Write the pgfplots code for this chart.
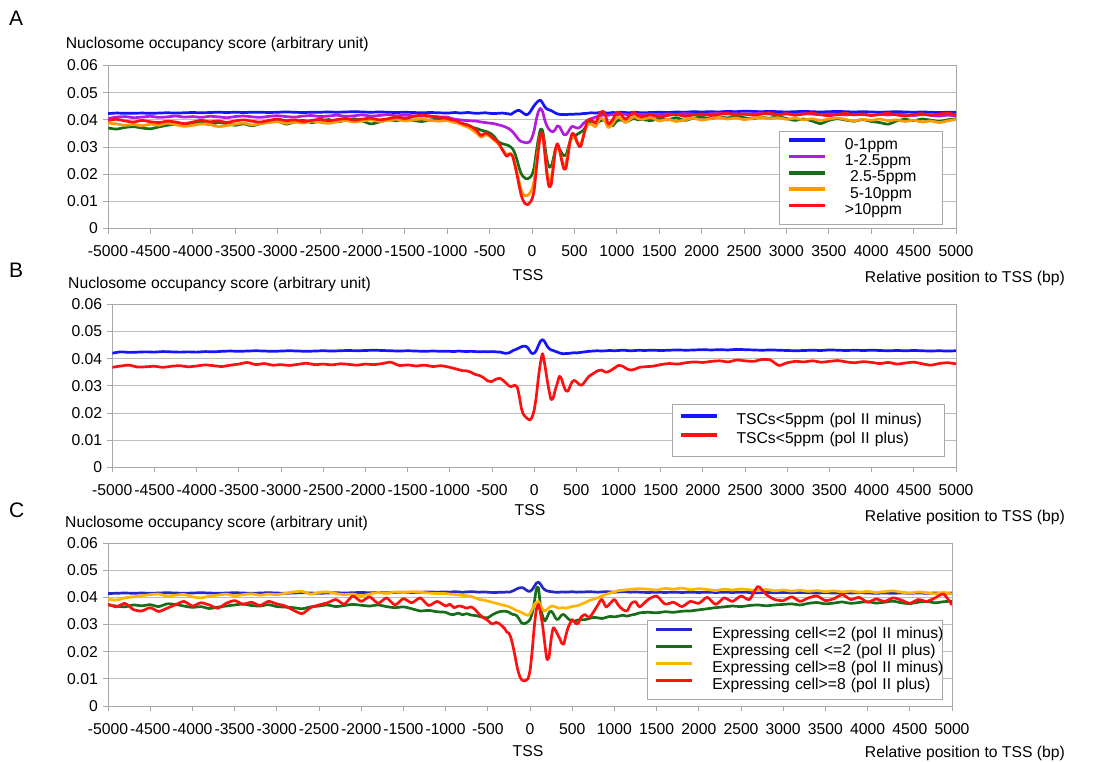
\documentclass[border=0pt]{standalone}
\usepackage{fontspec}
\setmainfont{Liberation Sans}
\usepackage{pgfplots}
\usepackage{pgfplotstable}
\pgfplotsset{compat=1.18}

\definecolor{cBlue}{HTML}{1414FF}
\definecolor{cPurple}{HTML}{B01EDC}
\definecolor{cGreen}{HTML}{186E18}
\definecolor{cOrange}{HTML}{FF9A00}
\definecolor{cRed}{HTML}{FF1010}
\definecolor{cNavy}{HTML}{2828C8}
\definecolor{cGold}{HTML}{FFB400}
\definecolor{cGrid}{HTML}{BDBDBD}
\definecolor{cAxis}{HTML}{A8A8A8}

\newcommand\fs{\fontsize{15.7}{18}\selectfont}

\pgfplotstableread{
x b p g o r
-5000 0.0423 0.0405 0.0370 0.0388 0.0398
-4900 0.0425 0.0410 0.0366 0.0385 0.0402
-4800 0.0424 0.0412 0.0372 0.0380 0.0396
-4700 0.0424 0.0408 0.0375 0.0383 0.0392
-4600 0.0425 0.0410 0.0370 0.0378 0.0398
-4500 0.0424 0.0413 0.0367 0.0384 0.0393
-4400 0.0425 0.0409 0.0374 0.0380 0.0390
-4300 0.0426 0.0411 0.0380 0.0388 0.0395
-4200 0.0425 0.0414 0.0384 0.0382 0.0392
-4100 0.0426 0.0410 0.0378 0.0376 0.0386
-4000 0.0427 0.0412 0.0385 0.0380 0.0392
-3900 0.0426 0.0409 0.0388 0.0385 0.0398
-3800 0.0427 0.0413 0.0383 0.0383 0.0393
-3700 0.0428 0.0411 0.0390 0.0375 0.0396
-3600 0.0427 0.0408 0.0386 0.0379 0.0391
-3500 0.0428 0.0412 0.0380 0.0384 0.0396
-3400 0.0427 0.0414 0.0385 0.0388 0.0400
-3300 0.0428 0.0411 0.0378 0.0381 0.0395
-3200 0.0428 0.0409 0.0386 0.0386 0.0392
-3100 0.0427 0.0413 0.0392 0.0390 0.0398
-3000 0.0428 0.0415 0.0395 0.0393 0.0403
-2900 0.0429 0.0412 0.0384 0.0387 0.0397
-2800 0.0428 0.0410 0.0392 0.0392 0.0400
-2700 0.0427 0.0414 0.0398 0.0388 0.0394
-2600 0.0428 0.0416 0.0390 0.0395 0.0398
-2500 0.0428 0.0412 0.0395 0.0391 0.0402
-2400 0.0429 0.0414 0.0401 0.0387 0.0397
-2300 0.0428 0.0417 0.0393 0.0393 0.0401
-2200 0.0429 0.0413 0.0398 0.0398 0.0405
-2100 0.0430 0.0415 0.0404 0.0392 0.0399
-2000 0.0429 0.0418 0.0396 0.0396 0.0403
-1900 0.0428 0.0414 0.0385 0.0400 0.0406
-1800 0.0429 0.0416 0.0392 0.0394 0.0400
-1700 0.0428 0.0419 0.0400 0.0398 0.0404
-1600 0.0427 0.0415 0.0397 0.0402 0.0410
-1500 0.0428 0.0417 0.0403 0.0396 0.0405
-1400 0.0427 0.0415 0.0398 0.0400 0.0412
-1300 0.0426 0.0414 0.0394 0.0403 0.0418
-1200 0.0427 0.0413 0.0400 0.0398 0.0414
-1100 0.0426 0.0411 0.0402 0.0395 0.0410
-1000 0.0425 0.0410 0.0400 0.0398 0.0405
-950 0.0426 0.0405 0.0398 0.0392 0.0400
-900 0.0427 0.0402 0.0392 0.0390 0.0398
-850 0.0425 0.0400 0.0388 0.0385 0.0390
-800 0.0426 0.0398 0.0385 0.0378 0.0384
-750 0.0427 0.0397 0.0380 0.0372 0.0380
-700 0.0425 0.0396 0.0372 0.0362 0.0372
-650 0.0424 0.0395 0.0368 0.0350 0.0360
-600 0.0425 0.0392 0.0362 0.0336 0.0342
-550 0.0426 0.0390 0.0358 0.0345 0.0352
-500 0.0424 0.0388 0.0352 0.0340 0.0344
-450 0.0423 0.0386 0.0340 0.0326 0.0330
-400 0.0424 0.0382 0.0320 0.0312 0.0318
-350 0.0425 0.0378 0.0312 0.0292 0.0290
-300 0.0423 0.0372 0.0308 0.0272 0.0266
-275 0.0422 0.0368 0.0305 0.0275 0.0272
-250 0.0420 0.0362 0.0300 0.0275 0.0275
-225 0.0425 0.0355 0.0292 0.0265 0.0262
-200 0.0430 0.0345 0.0275 0.0238 0.0230
-175 0.0434 0.0335 0.0250 0.0205 0.0195
-150 0.0435 0.0325 0.0222 0.0170 0.0155
-125 0.0430 0.0320 0.0200 0.0140 0.0120
-100 0.0424 0.0318 0.0190 0.0125 0.0100
-75 0.0419 0.0316 0.0184 0.0120 0.0090
-50 0.0420 0.0316 0.0183 0.0122 0.0088
-25 0.0428 0.0320 0.0188 0.0130 0.0095
0 0.0440 0.0335 0.0198 0.0145 0.0108
25 0.0452 0.0360 0.0225 0.0175 0.0140
50 0.0462 0.0400 0.0280 0.0240 0.0215
75 0.0470 0.0430 0.0330 0.0300 0.0290
100 0.0472 0.0442 0.0365 0.0345 0.0345
125 0.0462 0.0430 0.0360 0.0345 0.0350
150 0.0448 0.0400 0.0310 0.0285 0.0280
175 0.0440 0.0378 0.0255 0.0215 0.0200
200 0.0437 0.0365 0.0228 0.0175 0.0155
225 0.0434 0.0358 0.0228 0.0180 0.0160
250 0.0430 0.0356 0.0255 0.0230 0.0220
275 0.0425 0.0365 0.0290 0.0285 0.0290
300 0.0422 0.0378 0.0300 0.0300 0.0312
325 0.0420 0.0375 0.0292 0.0285 0.0290
350 0.0420 0.0360 0.0278 0.0255 0.0250
375 0.0420 0.0346 0.0268 0.0235 0.0220
400 0.0419 0.0345 0.0270 0.0240 0.0222
425 0.0420 0.0355 0.0295 0.0280 0.0270
450 0.0421 0.0368 0.0322 0.0320 0.0325
475 0.0420 0.0376 0.0335 0.0340 0.0350
500 0.0421 0.0374 0.0340 0.0338 0.0345
525 0.0422 0.0370 0.0345 0.0320 0.0325
550 0.0421 0.0370 0.0350 0.0310 0.0305
575 0.0422 0.0375 0.0355 0.0312 0.0302
600 0.0423 0.0385 0.0360 0.0335 0.0330
650 0.0424 0.0398 0.0380 0.0380 0.0395
700 0.0426 0.0405 0.0395 0.0385 0.0400
750 0.0425 0.0410 0.0390 0.0375 0.0388
800 0.0427 0.0415 0.0395 0.0405 0.0425
850 0.0426 0.0418 0.0400 0.0400 0.0430
900 0.0425 0.0417 0.0385 0.0372 0.0385
950 0.0427 0.0420 0.0378 0.0385 0.0400
1000 0.0426 0.0419 0.0395 0.0410 0.0428
1050 0.0428 0.0421 0.0400 0.0405 0.0420
1100 0.0427 0.0420 0.0392 0.0390 0.0402
1150 0.0426 0.0418 0.0398 0.0400 0.0415
1200 0.0428 0.0421 0.0405 0.0412 0.0428
1250 0.0427 0.0420 0.0400 0.0405 0.0415
1300 0.0426 0.0420 0.0402 0.0402 0.0412
1400 0.0427 0.0421 0.0397 0.0408 0.0418
1500 0.0428 0.0419 0.0405 0.0396 0.0410
1600 0.0427 0.0422 0.0400 0.0402 0.0416
1700 0.0429 0.0420 0.0408 0.0394 0.0420
1800 0.0428 0.0423 0.0398 0.0400 0.0413
1900 0.0430 0.0421 0.0406 0.0406 0.0418
2000 0.0429 0.0419 0.0410 0.0399 0.0422
2100 0.0430 0.0422 0.0404 0.0404 0.0416
2200 0.0429 0.0424 0.0411 0.0409 0.0420
2300 0.0431 0.0421 0.0407 0.0403 0.0424
2400 0.0430 0.0423 0.0413 0.0407 0.0418
2500 0.0432 0.0420 0.0408 0.0401 0.0422
2600 0.0431 0.0422 0.0404 0.0405 0.0417
2700 0.0430 0.0424 0.0410 0.0410 0.0421
2800 0.0431 0.0421 0.0406 0.0404 0.0425
2900 0.0430 0.0419 0.0412 0.0408 0.0419
3000 0.0429 0.0422 0.0405 0.0402 0.0423
3100 0.0430 0.0420 0.0398 0.0406 0.0417
3200 0.0431 0.0423 0.0403 0.0400 0.0421
3300 0.0430 0.0421 0.0396 0.0404 0.0425
3400 0.0429 0.0419 0.0386 0.0398 0.0419
3500 0.0430 0.0422 0.0398 0.0403 0.0415
3600 0.0431 0.0420 0.0404 0.0407 0.0420
3700 0.0430 0.0418 0.0399 0.0401 0.0424
3800 0.0429 0.0421 0.0395 0.0396 0.0418
3900 0.0430 0.0419 0.0401 0.0402 0.0422
4000 0.0429 0.0417 0.0394 0.0398 0.0416
4100 0.0428 0.0420 0.0390 0.0403 0.0420
4200 0.0429 0.0418 0.0384 0.0397 0.0424
4300 0.0430 0.0421 0.0396 0.0400 0.0418
4400 0.0429 0.0419 0.0402 0.0394 0.0414
4500 0.0428 0.0416 0.0397 0.0399 0.0419
4600 0.0429 0.0419 0.0403 0.0392 0.0423
4700 0.0428 0.0417 0.0399 0.0396 0.0417
4800 0.0427 0.0414 0.0394 0.0390 0.0421
4900 0.0428 0.0417 0.0400 0.0396 0.0425
5000 0.0428 0.0415 0.0404 0.0402 0.0418
}\tabA

\pgfplotstableread{
x b r
-5000 0.0420 0.0368
-4900 0.0425 0.0373
-4800 0.0423 0.0376
-4700 0.0424 0.0369
-4600 0.0425 0.0370
-4500 0.0424 0.0372
-4400 0.0426 0.0368
-4300 0.0425 0.0372
-4200 0.0424 0.0374
-4100 0.0425 0.0370
-4000 0.0424 0.0373
-3900 0.0426 0.0377
-3800 0.0425 0.0374
-3700 0.0427 0.0371
-3600 0.0428 0.0376
-3500 0.0427 0.0380
-3400 0.0428 0.0386
-3300 0.0429 0.0378
-3200 0.0428 0.0382
-3100 0.0427 0.0376
-3000 0.0428 0.0378
-2900 0.0429 0.0375
-2800 0.0428 0.0379
-2700 0.0427 0.0383
-2600 0.0428 0.0378
-2500 0.0429 0.0380
-2400 0.0428 0.0377
-2300 0.0429 0.0381
-2200 0.0430 0.0379
-2100 0.0429 0.0376
-2000 0.0430 0.0380
-1900 0.0431 0.0378
-1800 0.0430 0.0382
-1700 0.0429 0.0387
-1600 0.0428 0.0375
-1500 0.0429 0.0377
-1400 0.0428 0.0373
-1300 0.0427 0.0376
-1200 0.0428 0.0371
-1100 0.0427 0.0374
-1000 0.0427 0.0368
-950 0.0426 0.0364
-900 0.0428 0.0360
-850 0.0427 0.0356
-800 0.0426 0.0355
-750 0.0427 0.0350
-700 0.0426 0.0342
-650 0.0425 0.0338
-600 0.0426 0.0330
-550 0.0425 0.0318
-500 0.0426 0.0316
-450 0.0425 0.0325
-400 0.0424 0.0327
-350 0.0420 0.0315
-300 0.0421 0.0300
-275 0.0425 0.0297
-250 0.0430 0.0300
-225 0.0433 0.0302
-200 0.0436 0.0295
-175 0.0440 0.0260
-150 0.0444 0.0215
-125 0.0446 0.0194
-100 0.0446 0.0185
-75 0.0440 0.0178
-50 0.0428 0.0174
-25 0.0419 0.0185
0 0.0420 0.0210
25 0.0430 0.0260
50 0.0448 0.0330
75 0.0464 0.0385
100 0.0470 0.0418
125 0.0462 0.0380
150 0.0448 0.0330
175 0.0438 0.0285
200 0.0432 0.0250
225 0.0430 0.0255
250 0.0427 0.0285
275 0.0424 0.0310
300 0.0421 0.0335
325 0.0419 0.0325
350 0.0418 0.0300
375 0.0419 0.0282
400 0.0419 0.0280
425 0.0420 0.0298
450 0.0421 0.0315
475 0.0422 0.0320
500 0.0421 0.0315
525 0.0422 0.0308
550 0.0423 0.0302
575 0.0424 0.0305
600 0.0425 0.0315
650 0.0427 0.0335
700 0.0428 0.0345
750 0.0429 0.0355
800 0.0428 0.0358
850 0.0429 0.0350
900 0.0430 0.0355
950 0.0429 0.0365
1000 0.0430 0.0375
1050 0.0431 0.0372
1100 0.0430 0.0362
1150 0.0429 0.0358
1200 0.0430 0.0362
1250 0.0431 0.0368
1300 0.0430 0.0370
1400 0.0431 0.0372
1500 0.0430 0.0378
1600 0.0431 0.0382
1700 0.0432 0.0380
1800 0.0431 0.0385
1900 0.0432 0.0388
2000 0.0433 0.0386
2100 0.0432 0.0390
2200 0.0433 0.0392
2300 0.0432 0.0388
2400 0.0434 0.0395
2500 0.0433 0.0392
2600 0.0432 0.0390
2700 0.0431 0.0397
2800 0.0432 0.0395
2900 0.0431 0.0375
3000 0.0430 0.0385
3100 0.0429 0.0390
3200 0.0430 0.0388
3300 0.0431 0.0392
3400 0.0430 0.0387
3500 0.0432 0.0390
3600 0.0431 0.0393
3700 0.0430 0.0388
3800 0.0431 0.0385
3900 0.0430 0.0389
4000 0.0431 0.0386
4100 0.0430 0.0382
4200 0.0429 0.0386
4300 0.0430 0.0380
4400 0.0429 0.0384
4500 0.0430 0.0387
4600 0.0429 0.0381
4700 0.0428 0.0376
4800 0.0429 0.0382
4900 0.0428 0.0385
5000 0.0429 0.0381
}\tabB

\pgfplotstableread{
x b g o r
-5000 0.0414 0.0372 0.0393 0.0375
-4900 0.0415 0.0368 0.0390 0.0365
-4800 0.0416 0.0365 0.0398 0.0378
-4700 0.0415 0.0372 0.0402 0.0355
-4600 0.0416 0.0369 0.0406 0.0350
-4500 0.0415 0.0373 0.0410 0.0362
-4400 0.0416 0.0366 0.0412 0.0348
-4300 0.0417 0.0376 0.0405 0.0360
-4200 0.0416 0.0374 0.0408 0.0373
-4100 0.0415 0.0368 0.0411 0.0385
-4000 0.0416 0.0363 0.0402 0.0368
-3900 0.0417 0.0366 0.0398 0.0380
-3800 0.0416 0.0359 0.0404 0.0372
-3700 0.0415 0.0364 0.0408 0.0360
-3600 0.0416 0.0368 0.0412 0.0378
-3500 0.0417 0.0372 0.0406 0.0388
-3400 0.0416 0.0375 0.0410 0.0375
-3300 0.0415 0.0370 0.0413 0.0382
-3200 0.0416 0.0368 0.0408 0.0370
-3100 0.0417 0.0373 0.0412 0.0385
-3000 0.0416 0.0366 0.0410 0.0376
-2900 0.0415 0.0364 0.0415 0.0368
-2800 0.0416 0.0362 0.0420 0.0352
-2700 0.0417 0.0358 0.0422 0.0340
-2600 0.0416 0.0365 0.0412 0.0362
-2500 0.0415 0.0368 0.0418 0.0372
-2400 0.0416 0.0372 0.0420 0.0380
-2300 0.0417 0.0366 0.0414 0.0392
-2200 0.0416 0.0370 0.0410 0.0375
-2100 0.0417 0.0374 0.0412 0.0405
-2000 0.0418 0.0371 0.0406 0.0385
-1900 0.0417 0.0368 0.0412 0.0402
-1800 0.0418 0.0372 0.0418 0.0378
-1700 0.0417 0.0366 0.0414 0.0398
-1600 0.0418 0.0362 0.0420 0.0372
-1500 0.0419 0.0365 0.0418 0.0395
-1400 0.0418 0.0358 0.0421 0.0380
-1300 0.0419 0.0350 0.0419 0.0398
-1200 0.0420 0.0352 0.0416 0.0370
-1100 0.0419 0.0347 0.0414 0.0385
-1000 0.0420 0.0345 0.0414 0.0368
-950 0.0419 0.0338 0.0412 0.0375
-900 0.0421 0.0337 0.0411 0.0362
-850 0.0420 0.0342 0.0409 0.0368
-800 0.0419 0.0336 0.0407 0.0366
-750 0.0420 0.0340 0.0406 0.0360
-700 0.0421 0.0335 0.0404 0.0365
-650 0.0420 0.0333 0.0398 0.0355
-600 0.0419 0.0330 0.0392 0.0337
-550 0.0420 0.0326 0.0390 0.0325
-500 0.0419 0.0325 0.0386 0.0315
-450 0.0418 0.0335 0.0382 0.0302
-400 0.0418 0.0343 0.0378 0.0308
-350 0.0419 0.0348 0.0374 0.0300
-300 0.0419 0.0349 0.0370 0.0285
-275 0.0420 0.0348 0.0368 0.0272
-250 0.0419 0.0345 0.0366 0.0268
-225 0.0421 0.0340 0.0362 0.0250
-200 0.0424 0.0337 0.0358 0.0218
-175 0.0428 0.0336 0.0354 0.0180
-150 0.0432 0.0330 0.0350 0.0140
-125 0.0435 0.0318 0.0348 0.0112
-100 0.0436 0.0306 0.0344 0.0097
-75 0.0434 0.0303 0.0340 0.0093
-50 0.0428 0.0305 0.0336 0.0094
-25 0.0423 0.0310 0.0334 0.0100
0 0.0422 0.0318 0.0340 0.0130
25 0.0428 0.0340 0.0356 0.0200
50 0.0440 0.0380 0.0372 0.0290
75 0.0452 0.0430 0.0382 0.0355
100 0.0456 0.0435 0.0385 0.0374
125 0.0448 0.0365 0.0370 0.0340
150 0.0436 0.0330 0.0355 0.0295
175 0.0428 0.0313 0.0350 0.0230
200 0.0424 0.0325 0.0355 0.0172
225 0.0422 0.0343 0.0362 0.0180
250 0.0421 0.0349 0.0367 0.0245
275 0.0420 0.0340 0.0368 0.0288
300 0.0419 0.0325 0.0365 0.0280
325 0.0419 0.0318 0.0362 0.0265
350 0.0419 0.0325 0.0360 0.0250
375 0.0420 0.0335 0.0362 0.0232
400 0.0420 0.0337 0.0362 0.0228
425 0.0419 0.0330 0.0360 0.0260
450 0.0420 0.0322 0.0362 0.0288
475 0.0420 0.0316 0.0364 0.0305
500 0.0421 0.0313 0.0366 0.0318
525 0.0420 0.0312 0.0368 0.0310
550 0.0419 0.0315 0.0368 0.0302
575 0.0420 0.0317 0.0370 0.0305
600 0.0420 0.0318 0.0374 0.0325
650 0.0420 0.0318 0.0380 0.0337
700 0.0421 0.0322 0.0388 0.0326
750 0.0420 0.0326 0.0393 0.0345
800 0.0419 0.0325 0.0398 0.0370
850 0.0420 0.0322 0.0405 0.0393
900 0.0421 0.0326 0.0411 0.0365
950 0.0420 0.0330 0.0416 0.0378
1000 0.0419 0.0328 0.0420 0.0392
1050 0.0420 0.0331 0.0425 0.0370
1100 0.0421 0.0334 0.0426 0.0355
1150 0.0420 0.0331 0.0428 0.0350
1200 0.0419 0.0335 0.0430 0.0378
1250 0.0420 0.0338 0.0431 0.0384
1300 0.0419 0.0343 0.0432 0.0365
1400 0.0418 0.0345 0.0430 0.0392
1500 0.0419 0.0343 0.0427 0.0405
1600 0.0418 0.0347 0.0433 0.0375
1700 0.0419 0.0345 0.0430 0.0382
1800 0.0418 0.0349 0.0434 0.0366
1900 0.0419 0.0350 0.0428 0.0385
2000 0.0418 0.0354 0.0432 0.0378
2100 0.0419 0.0358 0.0429 0.0400
2200 0.0418 0.0362 0.0425 0.0374
2300 0.0419 0.0365 0.0430 0.0398
2400 0.0418 0.0368 0.0427 0.0385
2500 0.0419 0.0366 0.0431 0.0405
2600 0.0418 0.0370 0.0428 0.0392
2700 0.0417 0.0372 0.0425 0.0440
2800 0.0418 0.0369 0.0429 0.0410
2900 0.0417 0.0372 0.0424 0.0392
3000 0.0418 0.0374 0.0427 0.0388
3100 0.0417 0.0376 0.0423 0.0402
3200 0.0418 0.0372 0.0426 0.0385
3300 0.0417 0.0378 0.0422 0.0398
3400 0.0416 0.0381 0.0425 0.0405
3500 0.0417 0.0376 0.0421 0.0388
3600 0.0416 0.0379 0.0424 0.0395
3700 0.0417 0.0383 0.0420 0.0410
3800 0.0416 0.0378 0.0423 0.0392
3900 0.0417 0.0381 0.0419 0.0400
4000 0.0416 0.0384 0.0422 0.0382
4100 0.0415 0.0379 0.0418 0.0394
4200 0.0416 0.0382 0.0421 0.0385
4300 0.0415 0.0386 0.0424 0.0398
4400 0.0416 0.0380 0.0419 0.0390
4500 0.0415 0.0377 0.0416 0.0378
4600 0.0416 0.0382 0.0420 0.0392
4700 0.0415 0.0385 0.0417 0.0385
4800 0.0416 0.0380 0.0413 0.0398
4900 0.0415 0.0384 0.0418 0.0412
5000 0.0416 0.0386 0.0412 0.0372
}\tabC

\pgfplotsset{
  panel/.style={
    scale only axis, height=163pt,
    xmin=-5000, xmax=5000, ymin=0, ymax=0.06,
    xtick={-5000,-4500,-4000,-3500,-3000,-2500,-2000,-1500,-1000,-500,0,500,1000,1500,2000,2500,3000,3500,4000,4500,5000},
    xticklabels={-5000,-4500,-4000,-3500,-3000,-2500,-2000,-1500,-1000,-500,0,500,1000,1500,2000,2500,3000,3500,4000,4500,5000},
    ytick={0,0.01,0.02,0.03,0.04,0.05,0.06},
    yticklabels={0,0.01,0.02,0.03,0.04,0.05,0.06},
    scaled ticks=false,
    ymajorgrids, grid style={cGrid, line width=0.9pt},
    axis line style={cAxis, line width=0.9pt},
    tick style={cAxis, line width=0.9pt},
    tick align=outside, major tick length=5pt,
    xtick pos=bottom, ytick pos=left,
    tick label style={font=\fs, text=black},
    xticklabel style={inner sep=0pt, anchor=north, yshift=-12pt},
    yticklabel style={inner sep=0pt, anchor=east, xshift=-5pt},
    every axis plot/.append style={line width=2.7pt, smooth, tension=0.4, line join=round, no markers},
    legend cell align=left,
  },
  legkey/.style={
    legend image code/.code={\draw[##1, line width=3.6pt] (#1,5pt) -- ++(36pt,0pt); \path[draw=none] (0pt,0pt) -- (#1+56pt,0pt);}
  },
  legbox/.style={draw=cAxis, line width=0.9pt, fill=white, font=\fs, inner xsep=0pt,
    nodes={inner sep=0pt, text height=11pt, text depth=3pt}},
}

\begin{document}
\begin{tikzpicture}
\path[use as bounding box] (0pt,0pt) rectangle (1094pt,-761pt);

% ---------------- Panel A ----------------
\begin{axis}[panel, width=848pt, at={(108pt,-228.5pt)}, anchor=south west,
  legkey=9pt,
  legend style={legbox, at={(0.985,0.0245)}, anchor=south east, inner ysep=6.7pt, row sep=2.3pt,
    /tikz/every even column/.append style={text width=98pt}}]
\addplot[cBlue]   table[x=x,y=b] {\tabA};
\addplot[cPurple] table[x=x,y=p] {\tabA};
\addplot[cGreen]  table[x=x,y=g] {\tabA};
\addplot[cOrange] table[x=x,y=o] {\tabA};
\addplot[cRed]    table[x=x,y=r] {\tabA};
\legend{0-1ppm,1-2.5ppm,\ 2.5-5ppm,\ 5-10ppm,>10ppm}
\end{axis}

% ---------------- Panel B ----------------
\begin{axis}[panel, width=843.7pt, at={(112.3pt,-467.3pt)}, anchor=south west,
  legkey=8.3pt,
  legend style={legbox, at={(0.987,0.065)}, anchor=south east, inner ysep=9.3pt, row sep=5pt,
    /tikz/every even column/.append style={text width=208pt}}]
\addplot[cBlue] table[x=x,y=b] {\tabB};
\addplot[cRed]  table[x=x,y=r] {\tabB};
\legend{\mbox{TSCs<5ppm (pol II minus)},\mbox{TSCs<5ppm (pol II plus)}}
\end{axis}

% ---------------- Panel C ----------------
\begin{axis}[panel, width=844pt, at={(108pt,-706pt)}, anchor=south west,
  legkey=9pt,
  legend style={legbox, at={(0.989,0.037)}, anchor=south east, inner ysep=7pt, row sep=3pt,
    /tikz/every even column/.append style={text width=230pt}}]
\addplot[cNavy]  table[x=x,y=b] {\tabC};
\addplot[cGreen] table[x=x,y=g] {\tabC};
\addplot[cGold]  table[x=x,y=o] {\tabC};
\addplot[cRed]   table[x=x,y=r] {\tabC};
\legend{\mbox{Expressing cell<=2 (pol II minus)},\mbox{Expressing cell <=2 (pol II plus)},\mbox{Expressing cell>=8 (pol II minus)},\mbox{Expressing cell>=8 (pol II plus)}}
\end{axis}

% ---------------- Texts ----------------
\begin{scope}[every node/.style={inner sep=0pt}]
\node[anchor=base west, font=\fontsize{21}{24}\selectfont] at (9pt,-25pt) {A};
\node[anchor=base west, font=\fontsize{21}{24}\selectfont] at (9pt,-277.5pt) {B};
\node[anchor=base west, font=\fontsize{21}{24}\selectfont] at (9pt,-517.5pt) {C};
\node[anchor=base west, font=\fs] at (65.7pt,-48.3pt) {Nuclosome occupancy score (arbitrary unit)};
\node[anchor=base west, font=\fs] at (68pt,-288.5pt) {Nuclosome occupancy score (arbitrary unit)};
\node[anchor=base west, font=\fs] at (65pt,-527.5pt) {Nuclosome occupancy score (arbitrary unit)};
\node[anchor=base, font=\fs] at (528pt,-280.6pt) {TSS};
\node[anchor=base, font=\fs] at (530pt,-515.5pt) {TSS};
\node[anchor=base, font=\fs] at (528pt,-756.5pt) {TSS};
\node[anchor=base east, font=\fs] at (1065pt,-282.6pt) {Relative position to TSS (bp)};
\node[anchor=base east, font=\fs] at (1065pt,-521.5pt) {Relative position to TSS (bp)};
\node[anchor=base east, font=\fs] at (1065pt,-757pt) {Relative position to TSS (bp)};
\end{scope}
\end{tikzpicture}
\end{document}
